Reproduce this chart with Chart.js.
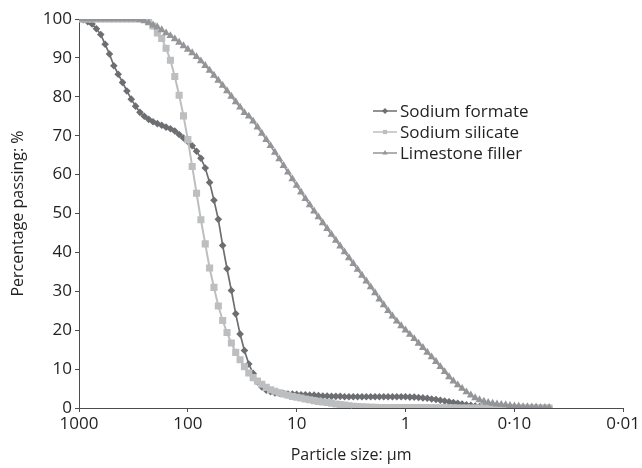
<!DOCTYPE html>
<html>
<head>
  <title>Particle size distribution</title>
  <style>
    body { margin: 0; background: #fff; }
  </style>
</head>
<body>
  <div style="width:642px;height:468px;">
    <canvas id="canvas"></canvas>
  </div>
  <script src="https://cdn.jsdelivr.net/npm/chart.js"></script>
  <script>
    // particle sizes in µm (instrument channels, largest first)
    var sizes = [
      1000, 912, 831.8, 758.6, 691.8, 631, 575.4, 524.8, 478.6, 436.5, 398.1, 363.1, 331.1, 302, 275.4, 251.2, 229.1, 208.9, 190.5, 173.8, 158.5, 144.5, 131.8, 120.2, 109.6,
      100, 91.2, 83.18, 75.86, 69.18, 63.1, 57.54, 52.48, 47.86, 43.65, 39.81, 36.31, 33.11, 30.2, 27.54, 25.12, 22.91, 20.89, 19.05, 17.38, 15.85, 14.45, 13.18, 12.02, 10.96,
      10, 9.12, 8.318, 7.586, 6.918, 6.31, 5.754, 5.248, 4.786, 4.365, 3.981, 3.631, 3.311, 3.02, 2.754, 2.512, 2.291, 2.089, 1.905, 1.738, 1.585, 1.445, 1.318, 1.202, 1.096,
      1, 0.912, 0.8318, 0.7586, 0.6918, 0.631, 0.5754, 0.5248, 0.4786, 0.4365, 0.3981, 0.3631, 0.3311, 0.302, 0.2754, 0.2512, 0.2291, 0.2089, 0.1905, 0.1738, 0.1585, 0.1445, 0.1318, 0.1202, 0.1096,
      0.1, 0.0912, 0.08318, 0.07586, 0.06918, 0.0631, 0.05754, 0.05248, 0.04786
    ];

    var sodiumFormate = [
      100, 99.8, 99.3, 98.7, 97.5, 96.0, 93.5, 91.0, 88.0, 85.8, 83.7, 81.5, 79.4, 77.6, 76.0, 75.0, 74.2, 73.6, 73.1, 72.7, 72.2, 71.8, 71.2, 70.3, 69.4,
      68.5, 67.4, 66.0, 64.2, 61.7, 58.0, 53.4, 48.5, 41.8, 35.8, 30.2, 24.2, 19.0, 14.8, 11.3, 8.9, 6.7, 5.4, 4.6, 4.2, 3.9, 3.8, 3.7, 3.6, 3.6,
      3.5, 3.4, 3.4, 3.3, 3.3, 3.2, 3.1, 3.1, 3.0, 3.0, 3.0, 2.9, 2.9, 2.9, 2.9, 2.9, 2.9, 2.9, 2.9, 2.9, 2.9, 2.9, 2.9, 2.9, 2.9,
      2.9, 2.8, 2.8, 2.7, 2.6, 2.5, 2.3, 2.2, 2.0, 1.8, 1.6, 1.4, 1.2, 1.0, 0.8, 0.7, 0.5, 0.4, 0.3, 0.2, 0.2, 0.1, 0.1, 0.1, 0.1,
      0.1, 0.05, 0.05, 0, 0, 0, 0, 0, 0
    ];

    var sodiumSilicate = [
      100, 100, 100, 100, 100, 100, 100, 100, 100, 100, 100, 100, 100, 100, 100, 100, 99.6, 98.2, 96.4, 95.0, 92.5, 89.4, 85.2, 80.4, 75.1,
      69.0, 62.1, 55.2, 48.4, 42.2, 36.0, 31.0, 26.2, 22.5, 19.4, 16.7, 14.3, 12.4, 10.6, 9.0, 7.8, 6.9, 6.1, 5.3, 4.7, 4.3, 3.9, 3.6, 3.3, 2.95,
      2.75, 2.55, 2.3, 2.1, 1.9, 1.7, 1.55, 1.4, 1.25, 1.05, 0.9, 0.75, 0.6, 0.45, 0.35, 0.3, 0.25, 0.2, 0.2, 0.15, 0.15, 0.1, 0.1, 0.1, 0.1,
      0.1, 0.1, 0.1, 0.1, 0.1, 0.1, 0.05, 0.05, 0.05, 0.05, 0.05, 0.05, 0, 0, 0, 0, 0, 0, 0, 0, 0, 0, 0, 0, 0,
      0, 0, 0, 0, 0, 0, 0, 0, 0
    ];

    var limestoneFiller = [
      100, 100, 100, 100, 100, 100, 100, 100, 100, 100, 100, 100, 100, 100, 99.8, 99.5, 99.0, 98.4, 97.9, 97.2, 96.4, 95.7, 94.9, 94.0, 93.1,
      92.2, 91.3, 90.3, 89.2, 88.0, 86.8, 85.5, 84.2, 82.9, 81.5, 80.1, 78.7, 77.3, 75.9, 75.0, 73.7, 72.2, 70.6, 69.0, 67.4, 65.7, 64.0, 62.3, 60.6, 58.9,
      57.2, 55.5, 53.8, 52.2, 50.6, 49.1, 47.6, 46.1, 44.6, 43.1, 41.6, 40.1, 38.6, 37.1, 35.6, 34.1, 32.6, 31.1, 29.6, 28.0, 26.5, 25.0, 23.6, 22.3, 21.1,
      20.0, 18.9, 17.8, 16.6, 15.5, 14.3, 13.1, 11.9, 10.6, 9.3, 8.0, 6.9, 5.9, 5.0, 4.1, 3.3, 2.6, 2.1, 1.7, 1.4, 1.2, 1.0, 0.9, 0.8, 0.6,
      0.5, 0.4, 0.3, 0.3, 0.2, 0.2, 0.1, 0.1, 0.1
    ];

    var seriesNames = ['Sodium formate', 'Sodium silicate', 'Limestone filler'];
    var xTickValues = [1000, 100, 10, 1, 0.1, 0.01];
    var xTickLabels = ['1000', '100', '10', '1', '0·10', '0·01'];

    var textColor = '#231f20';
    var axisColor = '#4d4d4f';

    function points(values) {
      return sizes.map(function(s, i) { return {x: s, y: values[i]}; });
    }

    // legend drawn inside the plot, line + marker like the original
    var insideLegend = {
      id: 'insideLegend',
      afterDatasetsDraw: function(chart) {
        var ctx = chart.ctx, area = chart.chartArea;
        var x0 = area.left + 294, y0 = area.top + 92;
        ctx.save();
        ctx.font = '17px "Open Sans"';
        ctx.textBaseline = 'middle';
        chart.data.datasets.forEach(function(ds, row) {
          var y = y0 + row * 21;
          ctx.strokeStyle = ds.borderColor;
          ctx.lineWidth = 1.5;
          ctx.beginPath();
          ctx.moveTo(x0, y);
          ctx.lineTo(x0 + 24, y);
          ctx.stroke();
          ctx.fillStyle = ds.pointBackgroundColor;
          Chart.helpers.drawPoint(ctx, {pointStyle: ds.pointStyle, radius: 3, rotation: 0, borderWidth: 0}, x0 + 12, y);
          ctx.fillStyle = textColor;
          ctx.fillText(ds.label, x0 + 27, y + 1);
        });
        ctx.restore();
      }
    };

    Chart.defaults.font.family = '"Open Sans", sans-serif';
    Chart.defaults.font.size = 17;
    Chart.defaults.color = textColor;

    var config = {
      type: 'line',
      data: {
        datasets: [
          {
            label: seriesNames[0],
            data: points(sodiumFormate),
            borderColor: '#6d6e71',
            pointBackgroundColor: '#6d6e71',
            pointBorderWidth: 0,
            pointStyle: 'rectRot',
            pointRadius: 3.8,
            borderWidth: 1.7,
            order: 3
          },
          {
            label: seriesNames[1],
            data: points(sodiumSilicate),
            borderColor: '#bcbec0',
            pointBackgroundColor: '#bcbec0',
            pointBorderWidth: 0,
            pointStyle: 'rect',
            pointRadius: 5,
            borderWidth: 2,
            order: 2
          },
          {
            label: seriesNames[2],
            data: points(limestoneFiller),
            borderColor: '#939598',
            pointBackgroundColor: '#939598',
            pointBorderWidth: 0,
            pointStyle: 'triangle',
            pointRadius: 4.6,
            borderWidth: 1.7,
            order: 1
          }
        ]
      },
      options: {
        responsive: true,
        maintainAspectRatio: false,
        animation: false,
        devicePixelRatio: 1,
        layout: {padding: {top: 19, right: 18, bottom: 3, left: 0}},
        plugins: {
          legend: {display: false},
          tooltip: {enabled: false}
        },
        scales: {
          x: {
            type: 'logarithmic',
            reverse: true,
            min: 0.01,
            max: 1000,
            afterBuildTicks: function(scale) {
              scale.ticks = xTickValues.map(function(v) { return {value: v}; });
            },
            afterFit: function(scale) { scale.height = 57; },
            grid: {drawOnChartArea: false, drawTicks: true, tickLength: 4, color: axisColor},
            border: {color: axisColor, width: 1},
            ticks: {
              autoSkip: false,
              maxRotation: 0,
              padding: 2,
              color: textColor,
              callback: function(value) {
                var i = xTickValues.indexOf(value);
                return i >= 0 ? xTickLabels[i] : '';
              }
            },
            title: {display: true, text: 'Particle size: µm', color: textColor, font: {size: 16}, padding: {top: 0, bottom: 0}}
          },
          y: {
            min: 0,
            max: 100,
            afterFit: function(scale) { scale.width = 79; },
            grid: {drawOnChartArea: false, drawTicks: true, tickLength: 4, color: axisColor},
            border: {color: axisColor, width: 1},
            ticks: {stepSize: 10, padding: 3, color: textColor},
            title: {display: true, text: 'Percentage passing: %', color: textColor, font: {size: 16}, padding: {top: 9, bottom: 0}}
          }
        }
      },
      plugins: [insideLegend]
    };

    window.onload = function() {
      var ctx = document.getElementById('canvas').getContext('2d');
      window.psdChart = new Chart(ctx, config);
    };
  </script>
</body>
</html>
